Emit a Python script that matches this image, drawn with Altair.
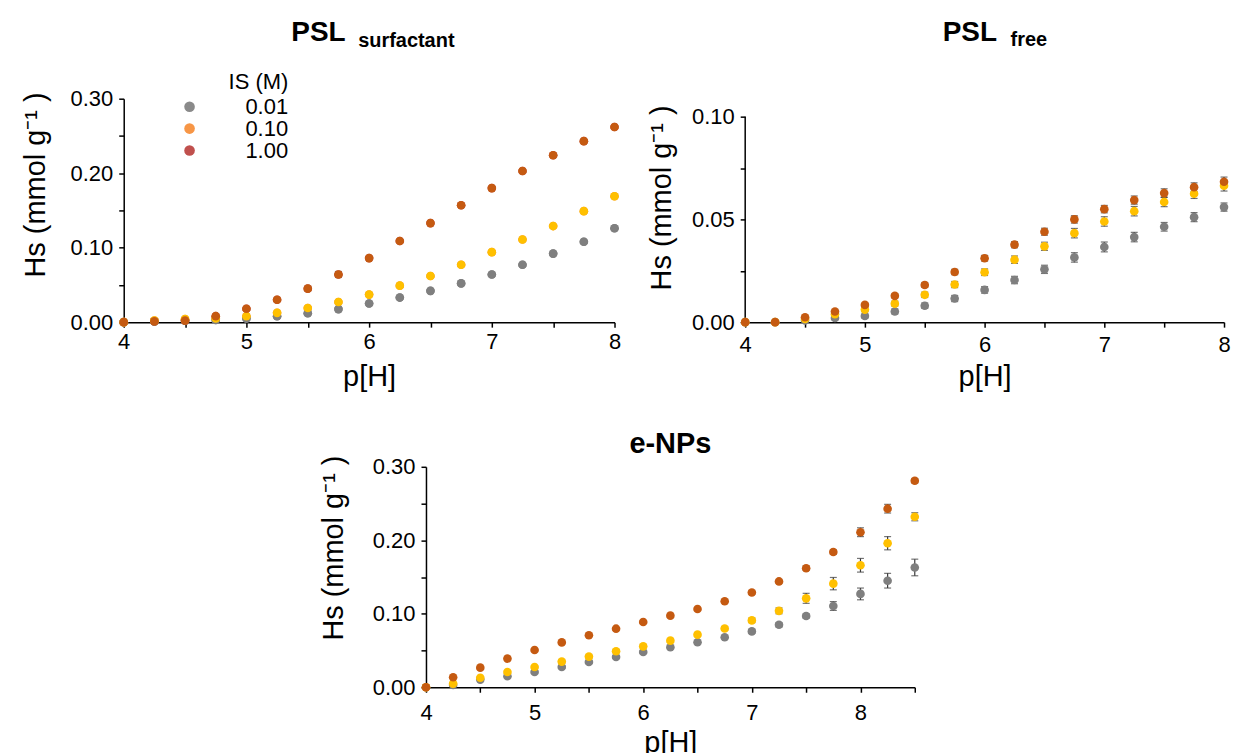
import altair as alt
import pandas as pd

FONT = "Liberation Sans, Arial, sans-serif"

# ---------------- data ----------------
IS_LEVELS = ["0.01", "0.10", "1.00"]
POINT_COLORS = ["#7f7f7f", "#ffc000", "#c55a11"]
LEGEND_COLORS = ["#8a8a8a", "#f79646", "#c0504d"]

ph_ab = [4.0, 4.25, 4.5, 4.75, 5.0, 5.25, 5.5, 5.75, 6.0, 6.25, 6.5, 6.75, 7.0, 7.25, 7.5, 7.75, 8.0]
ph_c = ph_ab + [8.25, 8.5]

# PSL surfactant
surf_001 = [0.000, 0.001, 0.002, 0.003, 0.005, 0.008, 0.012, 0.0175, 0.025, 0.033, 0.042, 0.052, 0.064, 0.077, 0.092, 0.108, 0.126]
surf_010 = [0.000, 0.002, 0.004, 0.005, 0.008, 0.0125, 0.019, 0.027, 0.037, 0.049, 0.062, 0.077, 0.094, 0.111, 0.129, 0.149, 0.169]
surf_100 = [0.000, 0.001, 0.002, 0.008, 0.018, 0.030, 0.045, 0.064, 0.086, 0.109, 0.133, 0.157, 0.180, 0.203, 0.224, 0.243, 0.262]
surf_err_001 = [0, 0.001, 0.001, 0.001, 0.001, 0.001, 0.001, 0.001, 0.001, 0.001, 0.001, 0.001, 0.001, 0.001, 0.001, 0.001, 0.001]
surf_err_010 = [0, 0.001, 0.001, 0.001, 0.001, 0.001, 0.001, 0.002, 0.002, 0.002, 0.002, 0.002, 0.002, 0.002, 0.002, 0.002, 0.002]
surf_err_100 = [0, 0.001, 0.001, 0.001, 0.002, 0.002, 0.003, 0.004, 0.002, 0.002, 0.002, 0.002, 0.002, 0.002, 0.002, 0.002, 0.002]

# PSL free
free_001 = [0.0, 0.0, 0.0008, 0.002, 0.003, 0.0052, 0.008, 0.0115, 0.0157, 0.0205, 0.0257, 0.0315, 0.0366, 0.0414, 0.0464, 0.0511, 0.056]
free_010 = [0.0, 0.0, 0.0016, 0.0039, 0.0061, 0.009, 0.0133, 0.0183, 0.0243, 0.0304, 0.0369, 0.0433, 0.049, 0.054, 0.0585, 0.0625, 0.0664]
free_100 = [0.0, 0.0, 0.0024, 0.0052, 0.0084, 0.0128, 0.0181, 0.0244, 0.0311, 0.0377, 0.044, 0.050, 0.055, 0.0594, 0.0628, 0.0657, 0.0683]
free_err_001 = [0, 0, 0.0006, 0.0008, 0.001, 0.0012, 0.0013, 0.0015, 0.0016, 0.0018, 0.002, 0.0023, 0.0024, 0.0023, 0.0021, 0.0022, 0.002]
free_err_010 = [0, 0, 0.0006, 0.0008, 0.001, 0.0012, 0.0013, 0.0015, 0.0016, 0.0018, 0.002, 0.0023, 0.0023, 0.0023, 0.0023, 0.0023, 0.0026]
free_err_100 = [0, 0, 0.0005, 0.0006, 0.0008, 0.001, 0.0012, 0.0013, 0.0014, 0.0015, 0.0017, 0.0018, 0.0018, 0.002, 0.0021, 0.0021, 0.0023]

# e-NPs
enp_001 = [0.0, 0.003, 0.0104, 0.015, 0.0208, 0.0276, 0.0344, 0.0412, 0.048, 0.0544, 0.0612, 0.068, 0.076, 0.085, 0.097, 0.1106, 0.127, 0.145, 0.163]
enp_010 = [0.0, 0.005, 0.013, 0.0208, 0.0276, 0.0349, 0.0417, 0.049, 0.0557, 0.0634, 0.0716, 0.080, 0.091, 0.104, 0.121, 0.141, 0.166, 0.196, 0.232]
enp_100 = [0.0, 0.0136, 0.0267, 0.039, 0.0507, 0.061, 0.0707, 0.0797, 0.0888, 0.0974, 0.1065, 0.117, 0.129, 0.144, 0.162, 0.184, 0.211, 0.243, 0.281]
enp_err_001 = [0, 0.001, 0.001, 0.0015, 0.0015, 0.002, 0.002, 0.002, 0.002, 0.002, 0.002, 0.002, 0.0025, 0.003, 0.003, 0.006, 0.008, 0.010, 0.0113]
enp_err_010 = [0, 0.001, 0.001, 0.0015, 0.0015, 0.002, 0.002, 0.002, 0.002, 0.002, 0.0025, 0.0025, 0.003, 0.004, 0.0068, 0.0084, 0.0093, 0.009, 0.0055]
enp_err_100 = [0, 0.001, 0.001, 0.001, 0.001, 0.0015, 0.0015, 0.0015, 0.0015, 0.0015, 0.002, 0.002, 0.002, 0.002, 0.003, 0.003, 0.006, 0.0059, 0.003]

Y_TITLE = "Hs (mmol g\u207b\u00b9 )"
X_TITLE = "p[H]"


def make_df(ph, series, errs):
    rows = []
    for lvl, ys, es in zip(IS_LEVELS, series, errs):
        for x, y, e in zip(ph, ys, es):
            rows.append({"pH": x, "IS": lvl, "Hs": y, "lo": y - e, "hi": y + e})
    return pd.DataFrame(rows)


AX = dict(
    grid=False, domainColor="black", domainWidth=1.5, tickColor="black", tickWidth=1.5,
    tickSize=5, labelColor="black", titleColor="black", labelFont=FONT, titleFont=FONT,
    labelFontSize=22, titleFontSize=29, titleFontWeight="normal", labelOverlap=False,
    labelFlush=False,
)


def panel(df, xdom, ydom, xvals, yvals, ystep, w, h, xlp, xty, ytx, yty, titles,
          legend=False, ytop=None):
    xaxis = alt.Axis(values=xvals, title=X_TITLE, titleX=w / 2, titleY=xty, labelPadding=xlp,
                     labelExpr="datum.value % 1 == 0 ? format(datum.value, 'd') : ''", **AX)
    yaxis = alt.Axis(values=yvals, title=Y_TITLE, titleX=ytx, titleY=yty, labelPadding=6,
                     domain=(ytop is None),
                     labelExpr=f"abs(datum.value * {ystep} - round(datum.value * {ystep})) < 0.001 ? format(datum.value, '.2f') : ''",
                     **AX)
    xs = alt.Scale(domain=xdom, nice=False, zero=False)
    ys = alt.Scale(domain=ydom, nice=False)
    x = alt.X("pH:Q", scale=xs, axis=xaxis)

    err = alt.Chart(df).mark_errorbar(ticks={"size": 7}, thickness=1.2, color="#3a3a3a").encode(
        x=x, y=alt.Y("lo:Q", scale=ys, axis=yaxis), y2="hi:Q")
    layers = [err]
    if ytop is not None:
        # y-axis line that stops at the last labelled value
        layers.append(
            alt.Chart(pd.DataFrame({"a": [0]})).mark_rule(color="black", strokeWidth=1.5).encode(
                x=alt.value(0), y=alt.datum(0, scale=ys), y2=alt.datum(ytop)))
    if legend:
        leg = alt.Chart(df).mark_circle(size=75, opacity=1).encode(
            x=x, y=alt.Y("Hs:Q", scale=ys, axis=yaxis),
            fill=alt.Fill("IS:N", scale=alt.Scale(domain=IS_LEVELS, range=LEGEND_COLORS),
                          legend=alt.Legend(title="IS (M)", orient="none", legendX=55, legendY=-27,
                                            titleFont=FONT, titleFontSize=22, titleFontWeight="normal",
                                            titleColor="black", titleAnchor="end", titlePadding=2,
                                            labelFont=FONT, labelFontSize=22, labelColor="black",
                                            labelOffset=45, symbolSize=113, symbolType="circle",
                                            symbolStrokeWidth=0, rowPadding=0, padding=0)))
        layers.append(leg)
    pts = alt.Chart(df).mark_circle(size=75, opacity=1).encode(
        x=x, y=alt.Y("Hs:Q", scale=ys, axis=yaxis),
        color=alt.Color("IS:N", scale=alt.Scale(domain=IS_LEVELS, range=POINT_COLORS), legend=None))
    layers.append(pts)
    for t in titles:
        txt, tx, ty, size, align = t
        layers.append(
            alt.Chart(pd.DataFrame({"t": [txt]})).mark_text(
                font=FONT, fontSize=size, fontWeight="bold", align=align, baseline="alphabetic",
                color="black").encode(text="t:N", x=alt.value(tx), y=alt.value(ty)))
    return alt.layer(*layers).properties(width=w, height=h)


df1 = make_df(ph_ab, [surf_001, surf_010, surf_100], [surf_err_001, surf_err_010, surf_err_100])
df2 = make_df(ph_ab, [free_001, free_010, free_100], [free_err_001, free_err_010, free_err_100])
df3 = make_df(ph_c, [enp_001, enp_010, enp_100], [enp_err_001, enp_err_010, enp_err_100])

x_ab = [4, 4.5, 5, 5.5, 6, 6.5, 7, 7.5, 8]
x_c = x_ab + [8.5]
y_03 = [0, 0.05, 0.1, 0.15, 0.2, 0.25, 0.3]
y_01 = [0, 0.025, 0.05, 0.075, 0.1]

p1 = panel(df1, [4, 8], [0, 0.3], x_ab, y_03, 10, 492, 224, 4, 41, -73, 86,
           [("PSL", 168, -57.5, 28, "left"), ("surfactant", 235, -52, 20, "left")], legend=True)
p2 = panel(df2, [4, 8], [0, 0.10874], x_ab, y_01, 20, 480, 224, 7, 41, -69, 99,
           [("PSL", 198, -58.3, 28, "left"), ("free", 266, -52.6, 20, "left")], ytop=0.1)
p3 = panel(df3, [4, 8.5], [0, 0.3], x_c, y_03, 10, 490, 221, 10, 41, -78, 81,
           [("e-NPs", 245, -14, 29, "center")])

spacer = alt.Chart(pd.DataFrame({"a": [0]})).mark_rule(strokeOpacity=0, color="white").encode(
    x=alt.value(0), x2=alt.value(196), y=alt.value(0)).properties(width=196, height=1)

top = alt.hconcat(p1, p2, spacing=25)
bottom = alt.hconcat(spacer, p3, spacing=0)
chart = alt.vconcat(top, bottom, spacing=38).properties(
    background="white",
    padding={"left": 14, "top": 9, "right": 0, "bottom": 0},
).configure_view(stroke="transparent", strokeWidth=0)

chart.save("out.html", embed_options={"renderer": "svg", "actions": False})
